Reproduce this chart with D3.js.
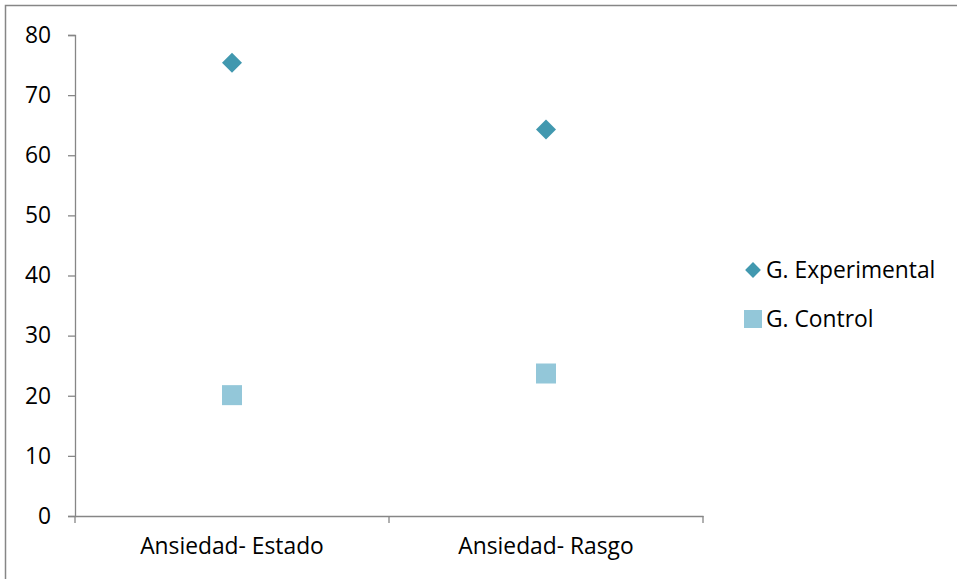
<!DOCTYPE html>
<html><head><meta charset="utf-8">
<script src="https://cdn.jsdelivr.net/npm/d3@7"></script>
<style>html,body{margin:0;padding:0;background:#fff;}svg{display:block;}</style>
</head><body>
<svg id="c" width="957" height="579"></svg>
<script>
const categories = ["Ansiedad- Estado", "Ansiedad- Rasgo"];
const experimental = [75.4, 64.3];
const control = [20.1, 23.7];
const seriesNames = ["G. Experimental", "G. Control"];
const yTicks = [0, 10, 20, 30, 40, 50, 60, 70, 80];

const svg = d3.select("#c");
const font = "'Open Sans', sans-serif";
const fs = 22.8;
const axisColor = "#868686";

// outer chart border
svg.append("rect").attr("x", 5.5).attr("y", 5.5).attr("width", 1000).attr("height", 1000)
  .attr("fill", "none").attr("stroke", axisColor).attr("stroke-width", 1.5);

const x0 = 75, x1 = 703, yTop = 35, yBot = 516;
const x = d3.scaleBand().domain(categories).range([x0, x1]).padding(0);
const y = d3.scaleLinear().domain([0, 80]).range([yBot, yTop]);

// y axis
const ya = svg.append("g").attr("transform", `translate(${x0},0)`)
  .call(d3.axisLeft(y).tickValues(yTicks).tickSize(7).tickPadding(17));
ya.select(".domain").attr("stroke", axisColor).attr("stroke-width", 1.3);
ya.selectAll(".tick line").attr("stroke", axisColor).attr("stroke-width", 1.3);
ya.selectAll("text").attr("font-family", font).attr("font-size", fs).attr("fill", "#000");

// x axis
const xa = svg.append("g").attr("transform", `translate(0,${yBot})`)
  .call(d3.axisBottom(x).tickSize(0).tickPadding(22).tickSizeOuter(0));
xa.select(".domain").attr("stroke", axisColor).attr("stroke-width", 1.3);
xa.selectAll("text").attr("font-family", font).attr("font-size", fs).attr("fill", "#000");
// category boundary ticks
const bounds = [x0, x0 + x.bandwidth(), x1];
xa.selectAll(".btick").data(bounds).enter().append("line")
  .attr("x1", d => d).attr("x2", d => d).attr("y1", 0).attr("y2", 7)
  .attr("stroke", axisColor).attr("stroke-width", 1.3);

const cx = c => x(c) + x.bandwidth() / 2;
const expColor = "#4198AF", ctlColor = "#93C7D9";

// experimental diamonds
svg.append("g").selectAll("path").data(categories.map((c, i) => ({c, v: experimental[i]})))
  .enter().append("path")
  .attr("d", d3.symbol().type(d3.symbolSquare).size(200))
  .attr("transform", d => `translate(${cx(d.c)},${y(d.v)}) rotate(45)`)
  .attr("fill", expColor);

// control squares
svg.append("g").selectAll("rect").data(categories.map((c, i) => ({c, v: control[i]})))
  .enter().append("rect")
  .attr("x", d => cx(d.c) - 10).attr("y", d => y(d.v) - 10)
  .attr("width", 20).attr("height", 20)
  .attr("fill", ctlColor);

// legend
const lg = svg.append("g").attr("transform", "translate(753,270)");
lg.append("path").attr("d", d3.symbol().type(d3.symbolSquare).size(125))
  .attr("transform", "rotate(45)").attr("fill", expColor);
lg.append("text").attr("x", 13).attr("y", 8).text(seriesNames[0])
  .attr("font-family", font).attr("font-size", fs).attr("fill", "#000");
lg.append("rect").attr("x", -9).attr("y", 40).attr("width", 18).attr("height", 18).attr("fill", ctlColor);
lg.append("text").attr("x", 13).attr("y", 57).text(seriesNames[1])
  .attr("font-family", font).attr("font-size", fs).attr("fill", "#000");
</script>
</body></html>
